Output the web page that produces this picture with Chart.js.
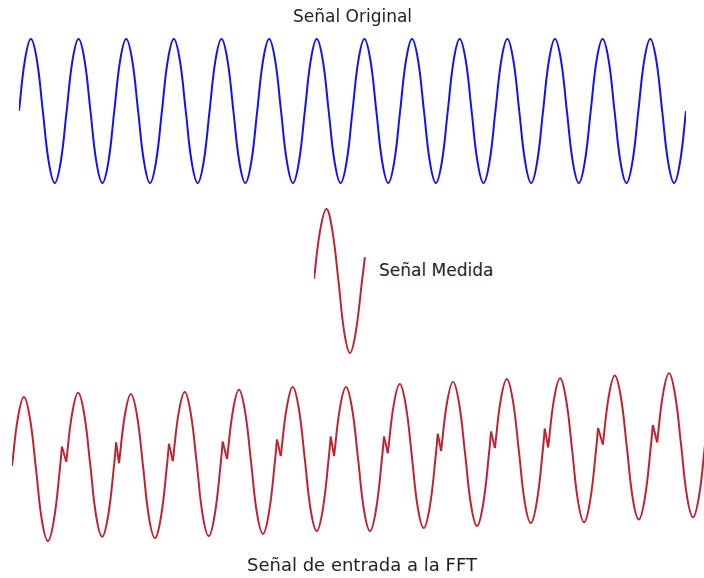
<!DOCTYPE html>
<html>
<head>
<meta charset="utf-8">
<script src="https://cdn.jsdelivr.net/npm/chart.js@4"></script>
<style>
  body { margin: 0; background: #fff; }
  #page { position: relative; width: 704px; height: 578px; overflow: hidden; }
  canvas { position: absolute; }
  .label { position: absolute; font-family: "DejaVu Sans", sans-serif; font-size: 17px; line-height: 20px; color: #222; white-space: nowrap; }
</style>
</head>
<body>
<div id="page">
  <canvas id="original" width="667" height="180" style="left:19px; top:21px"></canvas>
  <canvas id="measured" width="52" height="180" style="left:314px; top:191px"></canvas>
  <canvas id="fftInput" width="692" height="198" style="left:12px; top:361px"></canvas>
  <div class="label" style="left:293px; top:6px">Señal Original</div>
  <div class="label" style="left:379px; top:260px">Señal Medida</div>
  <div class="label" style="left:247px; top:555px; font-size:18px">Señal de entrada a la FFT</div>
</div>
<script>
// time in periods of the signal, value in units of the amplitude
// original signal, read every eighth of a period (14 periods)
const originalTime = [];
for (let i = 0; i <= 112; i++) originalTime.push(i / 8);
const originalValue = [
  0, 0.71, 1, 0.71, 0, -0.71, -1, -0.71,
  0, 0.71, 1, 0.71, 0, -0.71, -1, -0.71,
  0, 0.71, 1, 0.71, 0, -0.71, -1, -0.71,
  0, 0.71, 1, 0.71, 0, -0.71, -1, -0.71,
  0, 0.71, 1, 0.71, 0, -0.71, -1, -0.71,
  0, 0.71, 1, 0.71, 0, -0.71, -1, -0.71,
  0, 0.71, 1, 0.71, 0, -0.71, -1, -0.71,
  0, 0.71, 1, 0.71, 0, -0.71, -1, -0.71,
  0, 0.71, 1, 0.71, 0, -0.71, -1, -0.71,
  0, 0.71, 1, 0.71, 0, -0.71, -1, -0.71,
  0, 0.71, 1, 0.71, 0, -0.71, -1, -0.71,
  0, 0.71, 1, 0.71, 0, -0.71, -1, -0.71,
  0, 0.71, 1, 0.71, 0, -0.71, -1, -0.71,
  0, 0.71, 1, 0.71, 0, -0.71, -1, -0.71,
  0
];

// the short window that was measured
const measuredTime = [0, 0.13, 0.26, 0.38, 0.51, 0.63, 0.75, 0.87, 1.0, 1.06];
const measuredValue = [0.03, 0.71, 1.0, 0.71, 0.0, -0.71, -1.0, -0.71, 0.0, 0.33];

// the window repeated end to end (null = jump between copies)
const fftTime = [
  0, 0.125, 0.25, 0.375, 0.5, 0.625, 0.75, 0.875, 1.0, 1.04, null,
  1.13, 1.255, 1.38, 1.505, 1.63, 1.755, 1.88, 2.005, 2.13, 2.17, null,
  2.23, 2.355, 2.48, 2.605, 2.73, 2.855, 2.98, 3.105, 3.23, 3.27, null,
  3.35, 3.475, 3.60, 3.725, 3.85, 3.975, 4.10, 4.225, 4.35, 4.39, null,
  4.48, 4.605, 4.73, 4.855, 4.98, 5.105, 5.23, 5.355, 5.48, 5.52, null,
  5.60, 5.725, 5.85, 5.975, 6.10, 6.225, 6.35, 6.475, 6.60, 6.64, null,
  6.71, 6.835, 6.96, 7.085, 7.21, 7.335, 7.46, 7.585, 7.71, 7.75, null,
  7.83, 7.955, 8.08, 8.205, 8.33, 8.455, 8.58, 8.705, 8.83, 8.87, null,
  8.94, 9.065, 9.19, 9.315, 9.44, 9.565, 9.69, 9.815, 9.94, 9.98, null,
  10.06, 10.185, 10.31, 10.435, 10.56, 10.685, 10.81, 10.935, 11.06, 11.10, null,
  11.17, 11.295, 11.42, 11.545, 11.67, 11.795, 11.92, 12.045, 12.17, 12.21, null,
  12.31, 12.435, 12.56, 12.685, 12.81, 12.935, 13.06, 13.185, 13.31, 13.35, null,
  13.44, 13.565, 13.69, 13.815, 13.94, 14.065, 14.19, 14.315, 14.44
];
const fftValue = [
  0.04, 0.72, 1.00, 0.70, 0.00, -0.72, -1.00, -0.70, 0.02, 0.31, null,
  0.10, 0.78, 1.06, 0.76, 0.06, -0.66, -0.94, -0.64, 0.08, 0.37, null,
  0.08, 0.76, 1.04, 0.74, 0.04, -0.68, -0.96, -0.66, 0.06, 0.35, null,
  0.11, 0.79, 1.07, 0.77, 0.07, -0.65, -0.93, -0.63, 0.09, 0.38, null,
  0.14, 0.82, 1.10, 0.80, 0.10, -0.62, -0.90, -0.60, 0.12, 0.41, null,
  0.18, 0.86, 1.14, 0.84, 0.14, -0.58, -0.86, -0.56, 0.16, 0.45, null,
  0.18, 0.86, 1.14, 0.84, 0.14, -0.58, -0.86, -0.56, 0.16, 0.45, null,
  0.22, 0.90, 1.18, 0.88, 0.18, -0.54, -0.82, -0.52, 0.20, 0.49, null,
  0.25, 0.93, 1.21, 0.91, 0.21, -0.51, -0.79, -0.49, 0.23, 0.52, null,
  0.29, 0.97, 1.25, 0.95, 0.25, -0.47, -0.75, -0.45, 0.27, 0.56, null,
  0.30, 0.98, 1.26, 0.96, 0.26, -0.46, -0.74, -0.44, 0.28, 0.57, null,
  0.34, 1.02, 1.30, 1.00, 0.30, -0.42, -0.70, -0.40, 0.32, 0.61, null,
  0.37, 1.05, 1.33, 1.03, 0.33, -0.39, -0.67, -0.37, 0.35
];

const BLUE = '#1212f5';
const RED = '#bf2330';

function toPoints(times, values) {
  return times.map((t, i) => ({x: t === null ? times[i - 1] : t, y: values[i]}));
}

function waveChart(id, datasets, xMax, yMin, yMax) {
  return new Chart(document.getElementById(id), {
    type: 'line',
    data: {datasets: datasets},
    options: {
      responsive: false,
      animation: false,
      layout: {padding: 0},
      elements: {point: {radius: 0}},
      plugins: {legend: {display: false}, tooltip: {enabled: false}},
      scales: {
        x: {type: 'linear', display: false, min: 0, max: xMax},
        y: {display: false, min: yMin, max: yMax}
      }
    }
  });
}

waveChart('original', [{
  data: toPoints(originalTime, originalValue),
  borderColor: BLUE, borderWidth: 2, tension: 0.4, clip: false
}], 14, -1.25, 1.25);

waveChart('measured', [{
  data: toPoints(measuredTime, measuredValue),
  borderColor: RED, borderWidth: 2, tension: 0.4, clip: false
}], 52 / 48, -1.25, 1.25);

// straight jumps where one copy ends and the next begins
const fftCurve = toPoints(fftTime, fftValue);
const fftJumps = [];
fftValue.forEach((v, i) => {
  if (v === null) fftJumps.push(fftCurve[i - 1], fftCurve[i + 1], {x: fftCurve[i + 1].x, y: null});
});

waveChart('fftInput', [
  {data: fftCurve, borderColor: RED, borderWidth: 2, tension: 0.4, spanGaps: false, clip: false},
  {data: fftJumps, borderColor: RED, borderWidth: 2, tension: 0, spanGaps: false, clip: false}
], 692 / 48, -1.25, 1.5);
</script>
</body>
</html>
